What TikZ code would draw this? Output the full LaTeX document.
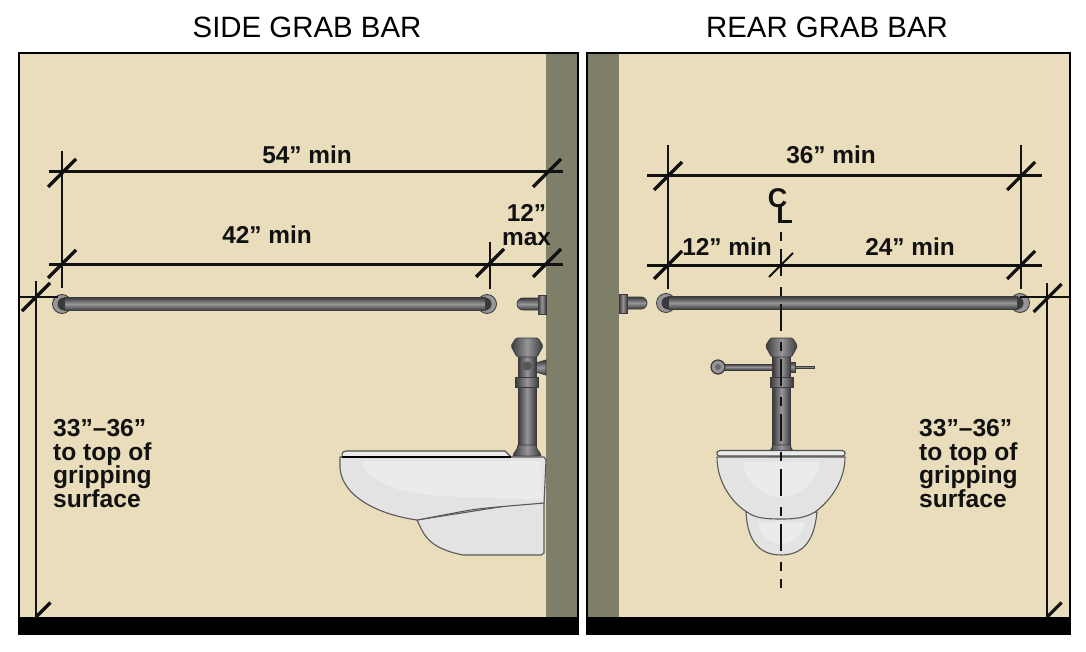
\documentclass[tikz,border=0pt]{standalone}
\usepackage{fontspec}
\setmainfont{Liberation Sans}
\definecolor{tan}{HTML}{E9DDBB}
\definecolor{wallc}{HTML}{7F7E68}
\definecolor{metald}{HTML}{3A3A3C}
\definecolor{metalm}{HTML}{5C5C5E}
\definecolor{metall}{HTML}{969698}
\definecolor{china}{HTML}{E3E3E3}
\definecolor{chinal}{HTML}{EBEBEB}
\definecolor{inkc}{HTML}{111111}
\tikzset{
  dimline/.style={line width=3pt,draw=inkc},
  extline/.style={line width=2.4pt,draw=inkc},
  slash/.style={line width=3.2pt,draw=inkc},
  thinslash/.style={line width=1.9pt,draw=inkc},
  title/.style={font=\fontsize{29.4}{32}\selectfont,text=black,inner sep=0pt},
  lab/.style={font=\bfseries\fontsize{24.4}{26}\selectfont,text=inkc,inner sep=0pt},
  cl/.style={font=\bfseries\fontsize{27}{28}\selectfont,text=inkc,inner sep=0pt},
  note/.style={font=\bfseries\fontsize{24.6}{23.7}\selectfont,text=inkc,inner sep=0pt,anchor=west,align=left},
  hmetal/.style={top color=metald,bottom color=metald,middle color=metall,draw=metald,line width=.8pt},
  vmetal/.style={left color=metald,right color=metald,middle color=metall,draw=metald,line width=.8pt},
  bowl/.style={fill=china,draw=black!65,line width=1.1pt,line join=round},
  seat/.style={fill=chinal,draw=black!70,line width=1.1pt},
  center line/.style={line width=2pt,draw=inkc,dash pattern=on 9pt off 8pt on 27pt off 11pt}
}
\newcommand{\valvebody}{
  \path[vmetal] (-9,354) rectangle (9,445);
  \path[vmetal] (-9,445) .. controls (-9,450) and (-13,451) .. (-14,456) -- (14,456) .. controls (13,451) and (9,450) .. (9,445) -- cycle;
  \path[vmetal] (-11.5,377) rectangle (11.5,387);
  \path[vmetal,rounded corners=1.5pt] (-11,338) -- (11,338) -- (16,346) -- (10,357) -- (-10,357) -- (-16,346) -- cycle;
}
\newcommand{\barend}[2]{
  \fill[metall,draw=metald,line width=.8pt] (#1,#2) circle (9.5);
}
\begin{document}
\begin{tikzpicture}[x=1pt,y=-1pt]
\useasboundingbox (0,0) rectangle (1086,652);
\fill[white] (0,0) rectangle (1086,652);

% ---------- panels
\fill[tan] (18,53) rectangle (578,634);
\fill[wallc] (546,54) rectangle (577,618);
\fill[black] (18,617) rectangle (578,634);
\draw[black,line width=2pt] (18.5,53.5) rectangle (577.5,634);
\fill[tan] (586,53) rectangle (1070,634);
\fill[wallc] (587,54) rectangle (619,618);
\fill[black] (586,617) rectangle (1070,634);
\draw[black,line width=2pt] (586.5,53.5) rectangle (1069.5,634);

\node[title] (t1) at (307,27) {SIDE GRAB BAR};
\node[title] (t2) at (827,27) {REAR GRAB BAR};

% ---------- left: grab bars
\barend{62}{304}\barend{487}{304}
\fill[metald] (64,304) circle (6.5);
\fill[metald] (485,304) circle (6.5);
\path[hmetal] (64,297.5) rectangle (485,310.5);
\path[hmetal] (523,298) arc (-90:-270:6) -- (540,310) -- (540,298) -- cycle;
\path[vmetal] (538,295) rectangle (546,314);

% ---------- left: valve
\path[hmetal] (536,363) -- (546,360) -- (546,375) -- (536,372) -- cycle;
\begin{scope}[shift={(527,0)}]
  \valvebody
  \draw[black!70,line width=.8pt,fill=metalm] (0,366) circle (4);
  \draw[black!70,line width=.6pt] (0,366) circle (1.5);
\end{scope}

% ---------- left: toilet
\path[seat] (342,457) .. controls (342,452) and (343,451) .. (346,451) -- (505,451) -- (511,457) -- cycle;
\path[bowl] (417,520) .. controls (424,535) and (428,548) .. (463,555) -- (541,555) -- (544,553) -- (544,500) -- cycle;
\path[bowl] (340,457) -- (544,457) -- (546,460) -- (544,503)
  .. controls (510,506) and (480,508) .. (465,511) -- (417,520)
  .. controls (375,514) and (342,495) .. (340,468) -- cycle;
\fill[chinal] (362,461) -- (540,461) -- (542,500) .. controls (500,496) and (440,500) .. (400,490) .. controls (375,482) and (362,470) .. (362,461) -- cycle;
\draw[black,line width=1.3pt] (342,457) -- (511,457);

% ---------- right: grab bars
\barend{666}{303}\barend{1020}{303}
\fill[metald] (668,303) circle (6.5);
\fill[metald] (1017,303) circle (6.5);
\path[hmetal] (668,296.5) rectangle (1017,309.5);
\path[hmetal] (641,297) arc (-90:90:6) -- (625,309) -- (625,297) -- cycle;
\path[vmetal] (619,294) rectangle (627,313);

% ---------- right: valve
\path[hmetal] (718,364) -- (773,364) -- (773,370) -- (718,370) -- cycle;
\fill[metall,draw=metald,line width=1.2pt] (718,367) circle (7);
\fill[metalm!70!metall] (718,367) circle (3);
\path[hmetal] (790,362) -- (795,362) -- (795,372) -- (790,372) -- cycle;
\path[hmetal] (795,366) -- (814,366) -- (814,368.5) -- (795,368.5) -- cycle;
\begin{scope}[shift={(781.5,0)}]
  \valvebody
\end{scope}

% ---------- right: toilet
\path[bowl] (746,512) .. controls (747,530) and (752,555) .. (781,555) .. controls (810,555) and (815,530) .. (817,512) -- cycle;
\fill[chinal] (758,522) .. controls (758,535) and (770,544) .. (781,544) .. controls (792,544) and (804,535) .. (804,522) -- cycle;
\path[bowl] (717,457) -- (845,457) .. controls (845,485) and (825,505) .. (815,512)
  .. controls (805,518) and (795,519) .. (781,519) .. controls (765,519) and (755,518) .. (747,512)
  .. controls (735,505) and (717,485) .. (717,457) -- cycle;
\fill[chinal] (742,462) -- (820,462) .. controls (815,485) and (800,495) .. (781,498) .. controls (762,495) and (747,485) .. (742,462) -- cycle;
\path[seat] (720,450.5) -- (842,450.5) .. controls (846,451) and (846,455) .. (843,456) -- (719,456) .. controls (716,455) and (716,451) .. (720,450.5) -- cycle;

% ---------- left: dimensions
\draw[dimline] (49,172) -- (563,172);
\draw[dimline] (49,264) -- (563,264);
\draw[extline] (62,151) -- (62,288);
\draw[extline] (490,242) -- (490,289);
\draw[extline] (36,281) -- (36,618);
\draw[extline] (19,297) -- (58,297);
\draw[slash] (62,173) +(-14,14) -- +(14,-14);
\draw[slash] (62,264) +(-14,14) -- +(14,-14);
\draw[slash] (490,263) +(-14,14) -- +(14,-14);
\draw[slash] (547,173) +(-14,14) -- +(14,-14);
\draw[slash] (547,263) +(-14,14) -- +(14,-14);
\draw[slash] (36,297) +(-14,14) -- +(14,-14);
\draw[slash] (36,617) -- (50.5,602.5);

% ---------- right: dimensions
\draw[dimline] (647,176) -- (1042,176);
\draw[dimline] (647,265) -- (1042,265);
\draw[extline] (668,145) -- (668,289);
\draw[extline] (1021,145) -- (1021,289);
\draw[extline] (1047,283) -- (1047,618);
\draw[extline] (1020,297) -- (1070,297);
\draw[slash] (668,176) +(-14,14) -- +(14,-14);
\draw[slash] (668,265) +(-14,14) -- +(14,-14);
\draw[slash] (1021,176) +(-14,14) -- +(14,-14);
\draw[slash] (1021,265) +(-14,14) -- +(14,-14);
\draw[slash] (1047.5,298) +(-14,14) -- +(14,-14);
\draw[slash] (1047,617) -- (1061.5,602.5);
\draw[thinslash] (781,265) +(-12,12) -- +(12,-12);
\draw[center line] (781,232) -- (781,588);

% ---------- labels
\node[lab] (l54) at (307,155) {54” min};
\node[lab] (l42) at (267,235) {42” min};
\node[lab,align=center] (l12a) at (526.5,225) {12”\\[-1.5pt]max};
\node[lab] (l36) at (831,155) {36” min};
\node[lab] (l12b) at (727,247) {12” min};
\node[lab] (l24) at (910,247) {24” min};
\node[cl] (lc) at (777.5,198) {C};
\node[cl] (ll) at (784.5,214) {L};
\node[note] (na) at (53,463.5) {33”–36”\\to top of\\gripping\\surface};
\node[note] (nb) at (919,463.5) {33”–36”\\to top of\\gripping\\surface};
\end{tikzpicture}
\end{document}
